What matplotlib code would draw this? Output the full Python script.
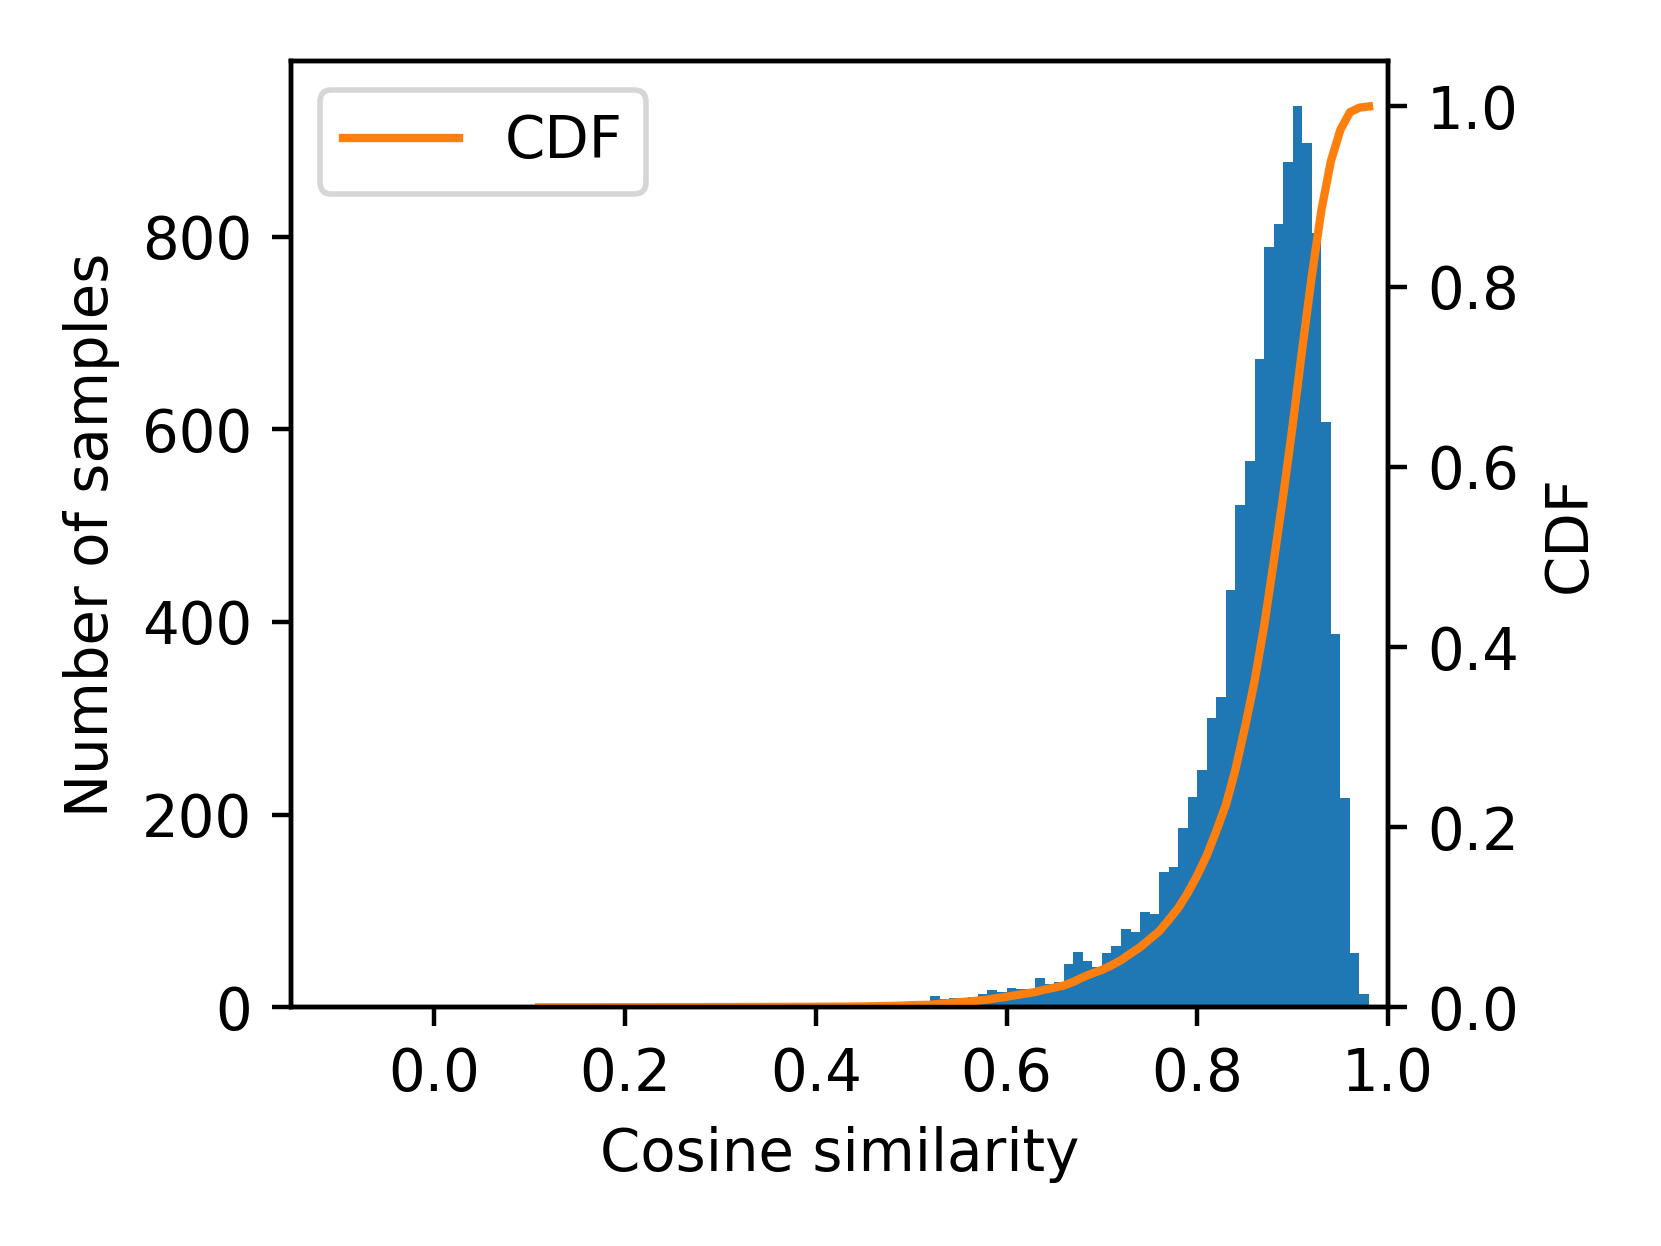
import numpy as np
import matplotlib
matplotlib.use('Agg')
import matplotlib.pyplot as plt

# histogram bins (width 0.01) and counts
bins = np.round(np.arange(0.11, 0.985, 0.01), 2)
counts = [1, 0, 0, 0, 0, 0, 1, 0, 0, 0,
          0, 0, 1, 0, 0, 0, 0, 1, 0, 0,
          1, 0, 0, 1, 0, 0, 1, 0, 1, 0,
          1, 0, 2, 1, 2, 2, 2, 3, 6, 3,
          2, 12, 9, 10, 9, 11, 14, 18, 16, 20,
          19, 19, 30, 24, 26, 45, 57, 48, 42, 56,
          64, 81, 78, 99, 97, 140, 146, 186, 218, 246,
          300, 322, 433, 521, 567, 673, 789, 813, 877, 935,
          897, 804, 608, 387, 217, 56, 14]
xticks = [0.0, 0.2, 0.4, 0.6, 0.8, 1.0]

plt.rcParams['font.size'] = 10.4

counts = np.array(counts)
cdf = np.concatenate([[0], np.cumsum(counts) / counts.sum()])

fig = plt.figure(figsize=(1661 / 400, 1246 / 400), dpi=400)
ax = fig.add_axes([0.1752, 0.1915, 0.8357 - 0.1752, 0.9507 - 0.1915])

ax.hist(bins[:-1], bins=bins, weights=counts, color='C0')
ax.set_xlim(-0.15, 1.0)
ax.set_xticks(xticks)
ax.set_xlabel('Cosine similarity')
ax.set_ylabel('Number of samples')

ax2 = ax.twinx()
ax2.plot(bins, cdf, color='C1', label='CDF')
ax2.set_ylim(0, 1.05)
ax2.set_ylabel('CDF')
ax2.legend(loc='upper left')

fig.savefig('out.png', dpi=400)
